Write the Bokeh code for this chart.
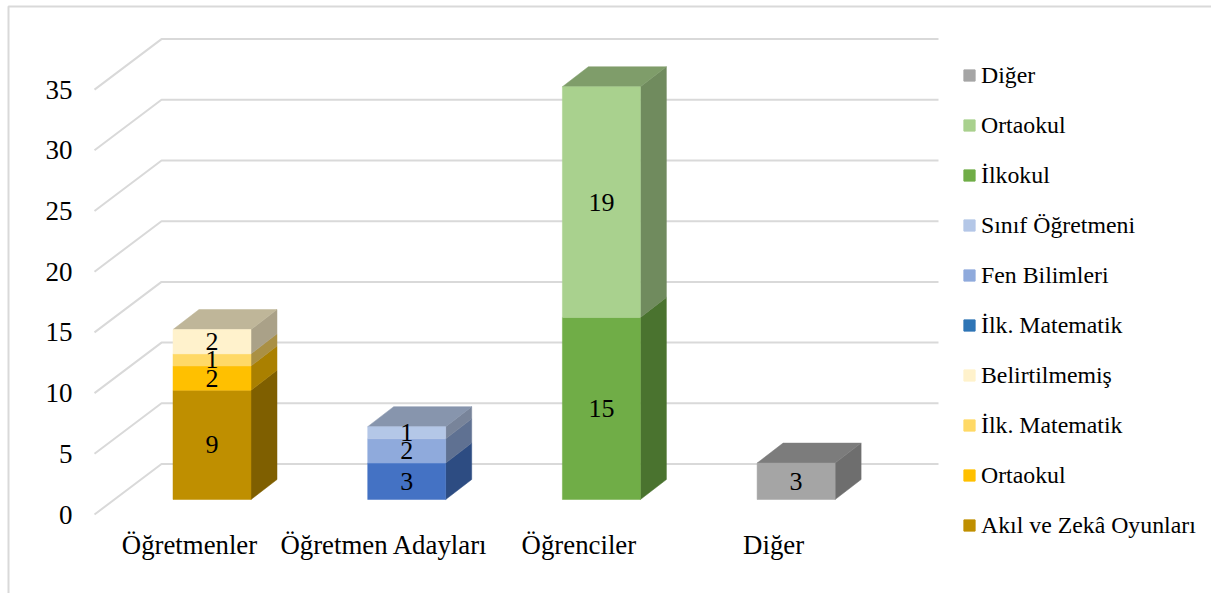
from bokeh.embed import file_html
from bokeh.models import FixedTicker, Legend, LegendItem, LinearAxis, Range1d
from bokeh.plotting import figure
from bokeh.resources import INLINE

# Survey groups and the segments stacked on each of them, bottom to top
groups = ["Öğretmenler", "Öğretmen Adayları", "Öğrenciler", "Diğer"]
series_names = ["Akıl ve Zekâ Oyunları", "Ortaokul", "İlk. Matematik", "Belirtilmemiş",
                "İlk. Matematik", "Fen Bilimleri", "Sınıf Öğretmeni",
                "İlkokul", "Ortaokul", "Diğer"]
akil_zeka =    [9, 0, 0, 0]
ortaokul_t =   [2, 0, 0, 0]
ilk_mat_t =    [1, 0, 0, 0]
belirtilmemis = [2, 0, 0, 0]
ilk_mat_a =    [0, 3, 0, 0]
fen =          [0, 2, 0, 0]
sinif =        [0, 1, 0, 0]
ilkokul =      [0, 0, 15, 0]
ortaokul_o =   [0, 0, 19, 0]
diger =        [0, 0, 0, 3]
series_values = [akil_zeka, ortaokul_t, ilk_mat_t, belirtilmemis, ilk_mat_a,
                 fen, sinif, ilkokul, ortaokul_o, diger]
series_colors = ["#BF8F00", "#FFC000", "#FFD966", "#FFF2CC", "#4472C4",
                 "#8FAADC", "#B4C7E7", "#70AD47", "#A9D18E", "#A5A5A5"]
# The key shows the teacher-candidate mathematics series in a different blue
legend_colors = ["#BF8F00", "#FFC000", "#FFD966", "#FFF2CC", "#2E75B6",
                 "#8FAADC", "#B4C7E7", "#70AD47", "#A9D18E", "#A5A5A5"]
value_ticks = [0, 5, 10, 15, 20, 25, 30, 35]

WIDTH, HEIGHT = 1211, 593
FONT = "Liberation Serif"

# Page pixels per data unit, and where group 0 / value 0 land on the page
PX_X, ORIGIN_X = 194.7, 189.0
PX_Y, ORIGIN_Y = 12.14, 514.0


def to_x(px):
    return (px - ORIGIN_X) / PX_X


def to_y(py):
    return (ORIGIN_Y - py) / PX_Y


# 3D layout: lengths in data units
BAR_SHIFT = 22.5 / PX_X      # front face centre relative to the group label
BAR_HALF = 39.0 / PX_X
BAR_RAISE = 15.0 / PX_Y      # bar floor sits behind the front edge of the plot floor
BAR_DX, BAR_DY = 26.0 / PX_X, 20.0 / PX_Y
WALL_DX, WALL_DY = 67.0 / PX_X, 50.5 / PX_Y
WALL_FRONT = to_x(94)
WALL_RIGHT = to_x(938)
NO_DATA = float("nan")


def shade(color, factor):
    rgb = [int(color[i:i + 2], 16) for i in (1, 3, 5)]
    return "#" + "".join(f"{round(c * factor):02X}" for c in rgb)


p = figure(width=WIDTH, height=HEIGHT, output_backend="svg", toolbar_location=None,
           x_range=Range1d(to_x(0), to_x(WIDTH)), y_range=Range1d(to_y(HEIGHT), to_y(0)),
           min_border=0, x_axis_type=None, y_axis_type=None,
           outline_line_color=None, background_fill_color="white")
p.grid.visible = False

# Chart border: only the top and left edges are visible
p.line([to_x(8), to_x(8), to_x(WIDTH)], [to_y(593), to_y(6), to_y(6)],
       line_color="#D9D9D9", line_width=2)

# Gridlines running along the side wall and the back wall
grid_xs = [[WALL_FRONT, WALL_FRONT + WALL_DX, WALL_RIGHT] for _ in value_ticks]
grid_ys = [[v, v + WALL_DY, v + WALL_DY] for v in value_ticks]
p.multi_line(grid_xs, grid_ys, line_color="#D9D9D9", line_width=2)

# Stacked prisms
legend_items = []
stack = [0] * len(groups)
labels_x, labels_y, labels_t = [], [], []
for name, values, color, key_color in zip(series_names, series_values, series_colors, legend_colors):
    lefts, rights, bottoms, tops = [], [], [], []
    for i, v in enumerate(values):
        if not v:
            continue
        cx = i + BAR_SHIFT
        y0 = stack[i] + BAR_RAISE
        y1 = y0 + v
        lefts.append(cx - BAR_HALF)
        rights.append(cx + BAR_HALF)
        bottoms.append(y0)
        tops.append(y1)
        labels_x.append(cx)
        labels_y.append((y0 + y1) / 2)
        labels_t.append(str(v))
        stack[i] += v
        # right-hand side face
        xr = cx + BAR_HALF
        p.patch([xr, xr + BAR_DX, xr + BAR_DX, xr],
                [y0, y0 + BAR_DY, y1 + BAR_DY, y1],
                fill_color=shade(color, 0.665), line_color=shade(color, 0.665), line_width=0.5)
        # lid, visible only on the last segment of a stack
        if stack[i] == sum(s[i] for s in series_values):
            xl = cx - BAR_HALF
            p.patch([xl, xr, xr + BAR_DX, xl + BAR_DX],
                    [y1, y1, y1 + BAR_DY, y1 + BAR_DY],
                    fill_color=shade(color, 0.75), line_color=shade(color, 0.75), line_width=0.5)
    p.quad(left=lefts, right=rights, bottom=bottoms, top=tops,
           fill_color=color, line_color=color, line_width=0.5)
    # A quad with no drawable extent carries the swatch colour for the key
    key = p.quad(left=[NO_DATA], right=[NO_DATA], bottom=[NO_DATA], top=[NO_DATA],
                 fill_color=key_color, line_color=key_color)
    legend_items.append(LegendItem(label=name, renderers=[key]))

p.text(labels_x, labels_y, text=labels_t, text_align="center", text_baseline="middle",
       text_font=dict(value=FONT), text_font_size="26px", text_color="#000000")

# Value axis, pinned just left of the side wall
y_axis = LinearAxis(fixed_location=to_x(72), ticker=FixedTicker(ticks=value_ticks))
y_axis.axis_line_color = None
y_axis.major_tick_line_color = None
y_axis.minor_tick_line_color = None
y_axis.major_tick_in = 0
y_axis.major_tick_out = 0
y_axis.major_label_standoff = 0
y_axis.major_label_text_font = FONT
y_axis.major_label_text_font_size = "27px"
y_axis.major_label_text_color = "#000000"
p.add_layout(y_axis, "left")

# Group axis below the floor
x_axis = LinearAxis(fixed_location=to_y(529), ticker=FixedTicker(ticks=list(range(len(groups)))),
                    major_label_overrides={i: g for i, g in enumerate(groups)})
x_axis.axis_line_color = None
x_axis.major_tick_line_color = None
x_axis.minor_tick_line_color = None
x_axis.major_tick_in = 0
x_axis.major_tick_out = 0
x_axis.major_label_standoff = 0
x_axis.major_label_text_font = FONT
x_axis.major_label_text_font_size = "26.8px"
x_axis.major_label_text_color = "#000000"
p.add_layout(x_axis, "below")

# Legend reads top-down, last series first; its location counts up from the page bottom
legend = Legend(items=legend_items[::-1], location=(962, 51),
                orientation="vertical", border_line_color=None,
                background_fill_alpha=0, margin=0, padding=0,
                glyph_width=14, glyph_height=14, label_width=10, label_height=34,
                spacing=16, label_standoff=5,
                label_text_font=FONT, label_text_font_size="23.8px",
                label_text_color="#000000")
p.add_layout(legend, "center")

open("out.html", "w").write(file_html(p, INLINE))
